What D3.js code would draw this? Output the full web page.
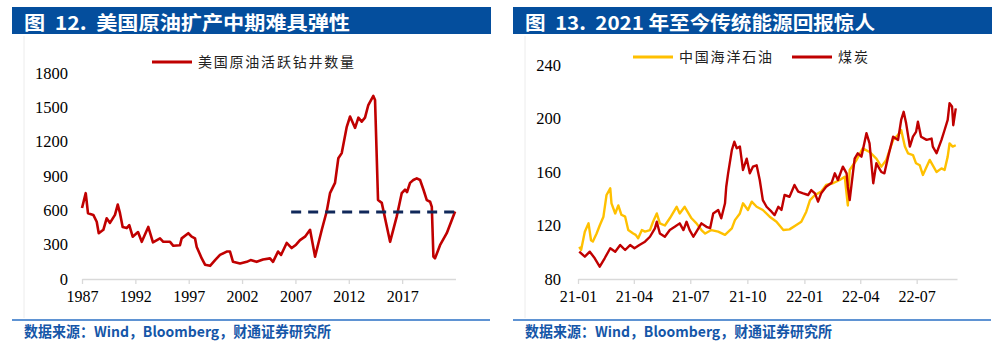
<!DOCTYPE html>
<html lang="zh">
	<head>
		<meta charset="utf-8">
		<title>图12 / 图13</title>
		<style>
			body { margin: 0; background: #fff; }
			svg { display: block; }
			.axis text { font-family: "Liberation Serif", "Times New Roman", serif; fill: #000; }
			.axis .domain, .axis line { stroke: #d9d9d9; stroke-width: 1.3; }
			.pre { white-space: pre; }
		</style>
	</head>
	<body>
		<svg id="chart" width="1001" height="362"></svg>

		<script src="https://d3js.org/d3.v7.min.js"></script>
		<script>
			"use strict";

			// 图12 美国原油活跃钻井数量
			var rigYears = [1987.0, 1987.35, 1987.56, 1988.06, 1988.38, 1988.57, 1989.0, 1989.31, 1989.62, 1990.09,
				1990.35, 1990.56, 1990.81, 1991.19, 1991.43, 1991.75, 1992.25, 1992.6, 1993.21, 1993.65,
				1994.31, 1994.62, 1995.25, 1995.56, 1996.18, 1996.34, 1996.96, 1997.28, 1997.59, 1997.75,
				1998.22, 1998.53, 1999.0, 1999.47, 1999.93, 2000.56, 2000.87, 2001.15, 2001.81, 2002.44,
				2002.8, 2003.37, 2003.96, 2004.62, 2004.9, 2005.37, 2005.65, 2006.18, 2006.65, 2007.06,
				2007.43, 2007.9, 2008.37, 2008.84, 2009.47, 2009.93, 2010.24, 2010.71, 2011.02, 2011.34,
				2011.81, 2012.12, 2012.59, 2012.9, 2013.21, 2013.52, 2013.83, 2014.3, 2014.46, 2014.74,
				2015.09, 2015.87, 2016.49, 2016.96, 2017.27, 2017.46, 2017.74, 2018.05, 2018.37, 2018.68,
				2019.0, 2019.31, 2019.62, 2019.78, 2019.93, 2020.08, 2020.55, 2021.18, 2021.96];
			var rigCounts = [620, 750, 575, 560, 500, 400, 430, 530, 490, 560,
				650, 575, 455, 445, 470, 370, 410, 325, 455, 320,
				355, 325, 325, 290, 295, 355, 400, 370, 355, 280,
				180, 125, 115, 165, 210, 240, 240, 150, 135, 150,
				165, 150, 170, 180, 150, 240, 210, 315, 270, 300,
				340, 370, 430, 195, 430, 590, 750, 840, 1055, 1100,
				1330, 1420, 1320, 1410, 1375, 1410, 1520, 1600, 1565, 690,
				665, 325, 545, 750, 780, 760, 840, 865, 880, 865,
				780, 690, 675, 630, 195, 180, 295, 400, 590];
			var rigDashLevel = 585;
			var rigDashYears = [2006.6, 2021.9];
			var rigYTicks = [0, 300, 600, 900, 1200, 1500, 1800];
			var rigXTicks = [1987, 1992, 1997, 2002, 2007, 2012, 2017];

			// 图13 2021年至今：中国海洋石油 / 煤炭
			var cnoocDates = ["2021-01-03", "2021-01-06", "2021-01-12", "2021-01-18", "2021-01-22", "2021-01-25", "2021-01-31",
				"2021-02-05", "2021-02-11", "2021-02-16", "2021-02-22", "2021-02-24", "2021-03-02", "2021-03-07", "2021-03-12",
				"2021-03-18", "2021-03-23", "2021-03-31", "2021-04-04", "2021-04-08", "2021-04-14", "2021-04-19", "2021-04-27",
				"2021-05-02", "2021-05-08", "2021-05-13", "2021-05-21", "2021-05-29", "2021-06-09", "2021-06-14", "2021-06-22",
				"2021-06-27", "2021-07-03", "2021-07-11", "2021-07-19", "2021-07-25", "2021-08-04", "2021-08-15", "2021-08-26",
				"2021-09-06", "2021-09-11", "2021-09-19", "2021-09-24", "2021-10-02", "2021-10-08", "2021-10-16", "2021-10-26",
				"2021-11-06", "2021-11-17", "2021-11-28", "2021-12-08", "2021-12-19", "2021-12-27", "2022-01-04", "2022-01-10",
				"2022-01-18", "2022-01-28", "2022-02-05", "2022-02-16", "2022-02-27", "2022-03-07", "2022-03-12", "2022-03-15",
				"2022-03-26", "2022-04-05", "2022-04-16", "2022-04-27", "2022-05-05", "2022-05-13", "2022-05-24", "2022-06-01",
				"2022-06-06", "2022-06-12", "2022-06-17", "2022-06-25", "2022-06-30", "2022-07-06", "2022-07-11", "2022-07-17",
				"2022-07-22", "2022-07-27", "2022-08-02", "2022-08-10", "2022-08-15", "2022-08-20", "2022-08-23", "2022-08-28",
				"2022-09-02"];
			var cnoocValues = [104, 101.7, 115.4, 121.6, 109, 108, 114,
				120, 126.6, 142.8, 147.8, 136.6, 129, 135, 128,
				126.6, 116.6, 114, 113, 110.4, 116.6, 115.4, 116.6,
				122.8, 129, 121.6, 120, 125.4, 134, 129, 134,
				130, 125.4, 121.6, 116.6, 114, 116.6, 115.4, 113,
				117.9, 124, 129, 136.6, 131.6, 137.8, 134, 131.6,
				126.6, 122.8, 116.6, 117.1, 120.4, 122.8, 130.3, 139,
				142.8, 145.3, 150.3, 151.6, 154, 156.5, 135, 161.5,
				169, 177.7, 175, 170, 164, 169, 184, 187.7,
				191.4, 179, 174, 172.7, 166.5, 165, 157.8, 164,
				169, 165, 160, 162.7, 161.5, 171.5, 181.4, 179,
				180];
			var coalDates = ["2021-01-03", "2021-01-12", "2021-01-20", "2021-01-28", "2021-02-05", "2021-02-13", "2021-02-22",
				"2021-03-02", "2021-03-10", "2021-03-18", "2021-03-26", "2021-04-02", "2021-04-10", "2021-04-19", "2021-04-27",
				"2021-05-05", "2021-05-08", "2021-05-13", "2021-05-21", "2021-05-29", "2021-06-06", "2021-06-14", "2021-06-20",
				"2021-06-25", "2021-06-30", "2021-07-06", "2021-07-11", "2021-07-19", "2021-07-27", "2021-08-02", "2021-08-07",
				"2021-08-15", "2021-08-20", "2021-08-26", "2021-08-28", "2021-08-31", "2021-09-06", "2021-09-10", "2021-09-14",
				"2021-09-19", "2021-09-24", "2021-09-30", "2021-10-05", "2021-10-10", "2021-10-16", "2021-10-21", "2021-10-26",
				"2021-11-01", "2021-11-09", "2021-11-14", "2021-11-20", "2021-11-25", "2021-11-30", "2021-12-08", "2021-12-16",
				"2021-12-22", "2021-12-30", "2022-01-07", "2022-01-12", "2022-01-18", "2022-01-23", "2022-01-28", "2022-02-05",
				"2022-02-14", "2022-02-19", "2022-02-24", "2022-03-04", "2022-03-10", "2022-03-12", "2022-03-15", "2022-03-23",
				"2022-03-28", "2022-04-03", "2022-04-11", "2022-04-16", "2022-04-22", "2022-04-27", "2022-05-05", "2022-05-10",
				"2022-05-16", "2022-05-24", "2022-06-01", "2022-06-06", "2022-06-10", "2022-06-14", "2022-06-20", "2022-06-25",
				"2022-06-30", "2022-07-03", "2022-07-08", "2022-07-17", "2022-07-25", "2022-07-27", "2022-08-02", "2022-08-10",
				"2022-08-15", "2022-08-20", "2022-08-23", "2022-08-27", "2022-08-29", "2022-09-02"];
			var coalValues = [100.4, 96.7, 100.4, 95.5, 89.2, 95.5, 103,
				100.4, 105.4, 101.7, 105.4, 103, 105.4, 107.9, 111.6,
				117.9, 122.8, 114, 111.6, 116.6, 119, 121.6, 116.6,
				122.8, 116.6, 111.6, 115.4, 121.6, 119, 118, 129,
				131.6, 125.4, 136.6, 149, 159, 176.4, 182.6, 177.7,
				179, 161.5, 170, 159, 164, 165, 154, 139,
				134, 130.3, 127.8, 134, 131.6, 142.8, 141.5, 150.3,
				145.3, 144, 142.8, 146.5, 144, 137.8, 144, 149,
				152, 159, 154, 164, 159, 149, 139, 170,
				174, 171.5, 189, 181.4, 151.6, 166.5, 160, 159,
				171.5, 186.4, 184, 198.9, 205, 196.4, 179, 186.4,
				190, 197.6, 186.4, 184, 185, 179, 174, 184,
				191.4, 199, 211.4, 209, 195, 207.6];
			var energyYTicks = [80, 120, 160, 200, 240];
			var energyXTicks = ["21-01", "21-04", "21-07", "21-10", "22-01", "22-04", "22-07"];

			var svg = d3.select("#chart");
			var cjk = "'Noto Sans CJK SC', 'Noto Sans', sans-serif";
			var parseDay = d3.timeParse("%Y-%m-%d");
			var parseTick = d3.timeParse("%y-%m");

			// frames: title bar, faint left rule, footer rule and source text
			function frame(x0, title, titleLen, srcX) {
				svg.append("rect").attr("x", x0).attr("y", 7).attr("width", 479).attr("height", 27).attr("fill", "#044e9d");
				svg.append("text").attr("class", "pre").attr("x", x0 + 12).attr("y", 29.5)
					.attr("font-family", cjk).attr("font-weight", 700).attr("font-size", 19)
					.attr("fill", "#fff").attr("textLength", titleLen).attr("lengthAdjust", "spacingAndGlyphs")
					.text(title);
				svg.append("line").attr("x1", srcX).attr("x2", srcX).attr("y1", 36).attr("y2", 318)
					.attr("stroke", "#ececec").attr("stroke-width", 1);
				svg.append("line").attr("x1", x0).attr("x2", x0 + 478).attr("y1", 320).attr("y2", 320)
					.attr("stroke", "#2a6fc4").attr("stroke-width", 1.3);
				svg.append("text").attr("x", srcX).attr("y", 337)
					.attr("font-family", cjk).attr("font-weight", 700).attr("font-size", 14.5)
					.attr("fill", "#1556a8").attr("textLength", 307).attr("lengthAdjust", "spacingAndGlyphs")
					.text("数据来源：Wind，Bloomberg，财通证券研究所");
			}

			function legendItem(x, y, w, color, label, labelLen) {
				svg.append("line").attr("x1", x).attr("x2", x + w).attr("y1", y).attr("y2", y)
					.attr("stroke", color).attr("stroke-width", 3);
				svg.append("text").attr("x", x + w + 6).attr("y", y + 5)
					.attr("font-family", cjk).attr("font-size", 14).attr("fill", "#222")
					.attr("textLength", labelLen).attr("lengthAdjust", "spacing")
					.text(label);
			}

			frame(12, "图  12.  美国原油扩产中期难具弹性", 326, 24);
			frame(513, "图  13.  2021 年至今传统能源回报惊人", 350, 525);

			// ---- 左图 ----
			var x1 = d3.scaleLinear().domain([1987, 2022]).range([82, 455.5]);
			var y1 = d3.scaleLinear().domain([0, 1800]).range([279, 73]);

			svg.append("g").attr("class", "axis").attr("transform", "translate(0,279)")
				.call(d3.axisBottom(x1).tickValues(rigXTicks).tickFormat(d3.format("d")).tickSize(5).tickSizeOuter(0).tickPadding(7))
				.selectAll("text").attr("font-size", 16);
			var gy1 = svg.append("g").attr("class", "axis").attr("transform", "translate(68,0)")
				.call(d3.axisLeft(y1).tickValues(rigYTicks).tickFormat(d3.format("d")).tickSize(0).tickPadding(0));
			gy1.select(".domain").remove();
			gy1.selectAll("text").attr("font-size", 16.5);

			var rigData = rigYears.map(function(d, i) { return [d, rigCounts[i]]; });
			svg.append("path").datum(rigData)
				.attr("fill", "none").attr("stroke", "#c00000").attr("stroke-width", 2.6)
				.attr("stroke-linejoin", "round")
				.attr("d", d3.line().x(function(d) { return x1(d[0]); }).y(function(d) { return y1(d[1]); }));

			svg.append("line")
				.attr("x1", x1(rigDashYears[0])).attr("x2", x1(rigDashYears[1]))
				.attr("y1", y1(rigDashLevel)).attr("y2", y1(rigDashLevel))
				.attr("stroke", "#10285a").attr("stroke-width", 3).attr("stroke-dasharray", "10,7");

			legendItem(152, 62, 40, "#c00000", "美国原油活跃钻井数量", 156);

			// ---- 右图 ----
			var x2 = d3.scaleTime().domain([parseDay("2021-01-01"), parseDay("2022-09-04")]).range([578, 957]);
			var y2 = d3.scaleLinear().domain([80, 240]).range([279, 65]);

			svg.append("g").attr("class", "axis").attr("transform", "translate(0,279)")
				.call(d3.axisBottom(x2).tickValues(energyXTicks.map(parseTick)).tickFormat(d3.timeFormat("%y-%m"))
					.tickSize(5).tickSizeOuter(0).tickPadding(7))
				.selectAll("text").attr("font-size", 16);
			var gy2 = svg.append("g").attr("class", "axis").attr("transform", "translate(561,0)")
				.call(d3.axisLeft(y2).tickValues(energyYTicks).tickSize(0).tickPadding(0));
			gy2.select(".domain").remove();
			gy2.selectAll("text").attr("font-size", 16.5);

			var line2 = d3.line().x(function(d) { return x2(d[0]); }).y(function(d) { return y2(d[1]); });
			var cnooc = cnoocDates.map(function(d, i) { return [parseDay(d), cnoocValues[i]]; });
			var coal = coalDates.map(function(d, i) { return [parseDay(d), coalValues[i]]; });

			svg.append("path").datum(cnooc)
				.attr("fill", "none").attr("stroke", "#ffc000").attr("stroke-width", 2.4).attr("stroke-linejoin", "round")
				.attr("d", line2);
			svg.append("path").datum(coal)
				.attr("fill", "none").attr("stroke", "#c00000").attr("stroke-width", 2.4).attr("stroke-linejoin", "round")
				.attr("d", line2);

			legendItem(633, 57, 40, "#ffc000", "中国海洋石油", 93);
			legendItem(792, 57, 40, "#c00000", "煤炭", 30);
		</script>
	</body>
</html>
